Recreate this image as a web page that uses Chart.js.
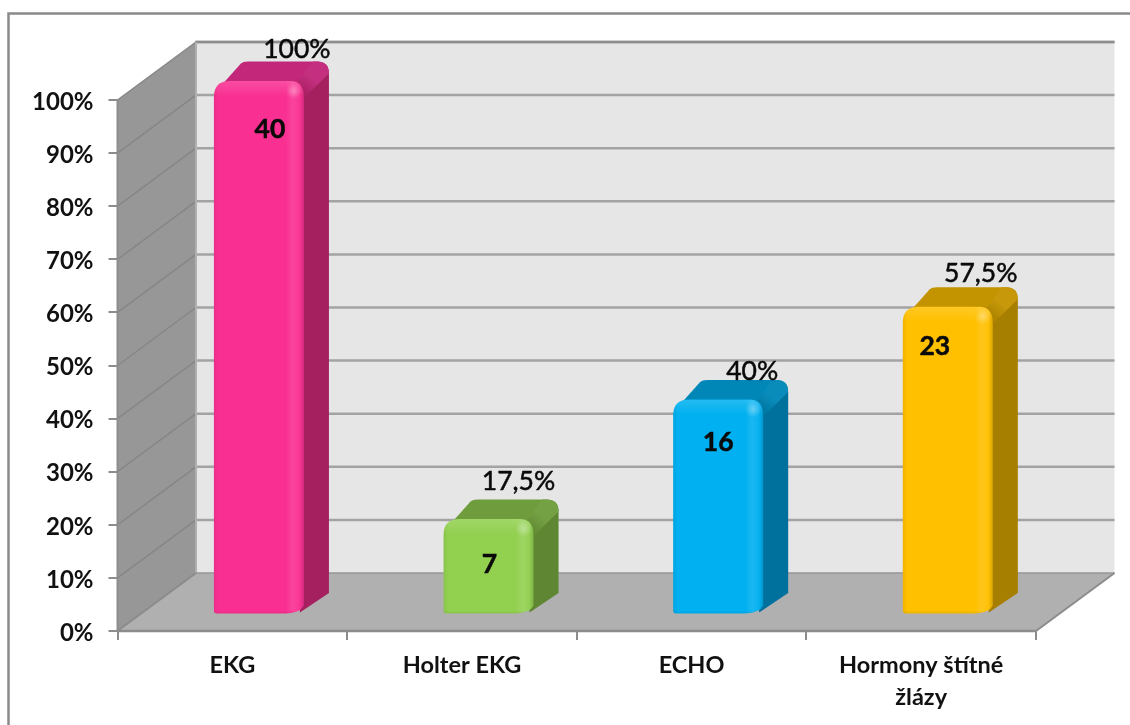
<!DOCTYPE html>
<html>
<head>
<meta charset="utf-8">
<style>
  html, body { margin: 0; padding: 0; background: #fff; }
  #wrap { width: 1130px; height: 725px; position: relative; }
</style>
<script src="https://cdn.jsdelivr.net/npm/chart.js@4/dist/chart.umd.js"></script>
</head>
<body>
<div id="wrap"><canvas id="chart" width="1130" height="725"></canvas></div>
<script>
// Share of examinations and the matching counts
const categories = ['EKG', 'Holter EKG', 'ECHO', ['Hormony štítné', 'žlázy']];
const percentValues = [100, 17.5, 40, 57.5];
const percentLabels = ['100%', '17,5%', '40%', '57,5%'];
const countValues = [40, 7, 16, 23];
const yTickStep = 10;

// Face colours per bar: front, top, side
const frontColors = ['#f93092', '#92d050', '#00b0f0', '#ffc000'];
const topColors = ['#c2277a', '#6f9d3d', '#0087b8', '#c49400'];
const sideColors = ['#a4205f', '#5f8733', '#00719c', '#a67e00'];

// Label placement relative to each bar's centre and top edge
const percentOffsets = [[38, -33], [30, -39], [34, -29], [33, -34]];
const countOffsets = [[11, 47], [1, 44], [0, 42], [-13, 39]];

// Oblique projection of the chart box and of the bars inside it
const WALL_DX = 78.5, WALL_DY = -58;
const BAR_SHIFT_X = 26.6, BAR_SHIFT_Y = -18;
const BAR_DX = 25, BAR_DY = -19.5;

const FONT = 'Lato, "Open Sans", sans-serif';

function mix(hex, other, t) {
  const p = s => [1, 3, 5].map(i => parseInt(s.substr(i, 2), 16));
  const a = p(hex), b = p(other);
  return 'rgb(' + a.map((v, i) => Math.round(v + (b[i] - v) * t)).join(',') + ')';
}

// Bar element drawn as a rounded prism: side, top, then shaded front face
class PrismBar extends Chart.BarElement {
  static id = 'prismBar';
  draw(ctx) {
    const { x, y, base, width } = this.getProps(['x', 'y', 'base', 'width'], true);
    const i = this.$context ? this.$context.dataIndex : 0;
    const front = frontColors[i], top = topColors[i], side = sideColors[i];
    const l = x - width / 2 + BAR_SHIFT_X, r = l + width;
    const t = y + BAR_SHIFT_Y - 1, b = base + BAR_SHIFT_Y + 1.5;
    const bx = BAR_DX, by = BAR_DY;

    ctx.save();
    // side face
    ctx.beginPath();
    ctx.moveTo(r - 12, t);
    ctx.lineTo(r + bx - 12, t + by);
    ctx.quadraticCurveTo(r + bx, t + by, r + bx, t + by + 12);
    ctx.lineTo(r + bx, b + by - 1);
    ctx.lineTo(r - 4, b - 1);
    ctx.closePath();
    ctx.fillStyle = side;
    ctx.fill();

    // top face
    ctx.beginPath();
    ctx.moveTo(l + 6, t + 6);
    ctx.lineTo(l + bx + 2, t + by + 2);
    ctx.quadraticCurveTo(l + bx + 4, t + by, l + bx + 9, t + by);
    ctx.lineTo(r + bx - 12, t + by);
    ctx.lineTo(r - 4, t + 6);
    ctx.closePath();
    ctx.fillStyle = top;
    ctx.fill();

    // soft ridge between the top and side faces
    const ridge = ctx.createLinearGradient(r - 2, t + 8, r + bx - 8, t + by + 4);
    ridge.addColorStop(0, mix(top, side, 0.7));
    ridge.addColorStop(0.5, mix(top, '#ffffff', 0.04));
    ridge.addColorStop(1, mix(top, '#ffffff', 0.04));
    ctx.beginPath();
    ctx.moveTo(r - 6, t + 1);
    ctx.lineTo(r + bx - 16, t + by);
    ctx.lineTo(r + bx - 12, t + by);
    ctx.quadraticCurveTo(r + bx, t + by, r + bx, t + by + 12);
    ctx.lineTo(r + 1, t + 16);
    ctx.closePath();
    ctx.fillStyle = ridge;
    ctx.fill();

    // front face
    ctx.beginPath();
    ctx.moveTo(l, t + 16);
    ctx.quadraticCurveTo(l, t, l + 16, t);
    ctx.lineTo(r - 14, t);
    ctx.quadraticCurveTo(r, t, r, t + 16);
    ctx.lineTo(r, b - 8);
    ctx.quadraticCurveTo(r - 3, b - 1, r - 18, b);
    ctx.lineTo(l + 3, b);
    ctx.quadraticCurveTo(l, b, l, b - 3);
    ctx.closePath();
    const g = ctx.createLinearGradient(l, 0, r, 0);
    g.addColorStop(0, mix(front, '#000000', 0.06));
    g.addColorStop(0.05, front);
    g.addColorStop(0.8, front);
    g.addColorStop(0.88, mix(front, '#ffffff', 0.1));
    g.addColorStop(0.95, mix(front, '#ffffff', 0.03));
    g.addColorStop(1, mix(front, '#000000', 0.14));
    ctx.fillStyle = g;
    ctx.fill();
    ctx.clip();

    // highlight along the upper edge
    const hi = ctx.createLinearGradient(0, t, 0, t + 15);
    hi.addColorStop(0, 'rgba(255,255,255,0.14)');
    hi.addColorStop(1, 'rgba(255,255,255,0)');
    ctx.fillStyle = hi;
    ctx.fillRect(l, t, width, 15);

    // shine at the upper right corner
    const cx = r - 10, cy = t + 10;
    const glow = ctx.createRadialGradient(cx, cy, 0, cx, cy, 8);
    glow.addColorStop(0, 'rgba(255,255,255,0.3)');
    glow.addColorStop(1, 'rgba(255,255,255,0)');
    ctx.fillStyle = glow;
    ctx.fillRect(cx - 8, cy - 8, 16, 16);

    // darker rim along the foot of the bar
    const foot = ctx.createLinearGradient(0, b - 3, 0, b);
    foot.addColorStop(0, 'rgba(0,0,0,0)');
    foot.addColorStop(1, 'rgba(0,0,0,0.08)');
    ctx.fillStyle = foot;
    ctx.fillRect(l, b - 3, width, 3);
    ctx.restore();
  }
}

class PrismBarController extends Chart.BarController {
  static id = 'prismBar';
  static defaults = { dataElementType: 'prismBar' };
}
Chart.register(PrismBar, PrismBarController);

// Outer frame, walls, floor and receding grid lines
const boxPlugin = {
  id: 'box',
  beforeDraw(chart) {
    const { ctx, chartArea: a, scales: { y } } = chart;
    const yTop = y.getPixelForValue(100), yBot = y.getPixelForValue(0);
    const L = a.left, R = a.right;
    const stroke = (w, c, pts) => {
      ctx.lineWidth = w;
      ctx.strokeStyle = c;
      ctx.beginPath();
      pts.forEach((p, i) => i ? ctx.lineTo(p[0], p[1]) : ctx.moveTo(p[0], p[1]));
      ctx.stroke();
    };
    const fill = (c, pts) => {
      ctx.fillStyle = c;
      ctx.beginPath();
      pts.forEach((p, i) => i ? ctx.lineTo(p[0], p[1]) : ctx.moveTo(p[0], p[1]));
      ctx.closePath();
      ctx.fill();
    };
    ctx.save();
    // frame along the left and top of the page
    stroke(2.5, '#8a8a8a', [[8.5, 725], [8.5, 13.5], [1130, 13.5]]);

    // back wall
    fill('#e6e6e6', [[L + WALL_DX, yTop + WALL_DY], [R + WALL_DX, yTop + WALL_DY], [R + WALL_DX, yBot + WALL_DY], [L + WALL_DX, yBot + WALL_DY]]);
    // side wall
    fill('#979797', [[L, yTop], [L + WALL_DX, yTop + WALL_DY], [L + WALL_DX, yBot + WALL_DY], [L, yBot]]);

    // grid lines across both walls, one per axis tick
    y.ticks.forEach(tick => {
      const py = y.getPixelForValue(tick.value);
      stroke(1.5, '#868686', [[L, py], [L + WALL_DX, py + WALL_DY]]);
      if (tick.value > 0) {
        stroke(2.5, '#a3a3a3', [[L + WALL_DX, py + WALL_DY], [R + WALL_DX, py + WALL_DY]]);
      }
    });
    stroke(2.5, '#8e8e8e', [[L + WALL_DX - 1, yTop + WALL_DY], [R + WALL_DX, yTop + WALL_DY]]);
    stroke(2, '#b0b0b0', [[L + WALL_DX, yTop + WALL_DY], [L + WALL_DX, yBot + WALL_DY]]);
    stroke(2, '#8e8e8e', [[L, yTop - 1], [L, yBot]]);

    // floor
    fill('#b0b0b0', [[L, yBot], [L + WALL_DX, yBot + WALL_DY], [R + WALL_DX, yBot + WALL_DY], [R, yBot]]);
    stroke(1.5, '#969696', [[L + WALL_DX, yBot + WALL_DY], [R + WALL_DX, yBot + WALL_DY]]);
    stroke(2, '#8c8c8c', [[L, yBot], [L + WALL_DX, yBot + WALL_DY]]);
    stroke(2, '#8c8c8c', [[R, yBot], [R + WALL_DX, yBot + WALL_DY]]);
    stroke(2.5, '#8c8c8c', [[L, yBot], [R, yBot]]);
    ctx.restore();
  }
};

// Percent label above each bar, count label on its front face
const barLabelsPlugin = {
  id: 'barLabels',
  afterDatasetsDraw(chart) {
    const { ctx } = chart;
    const bars = chart.getDatasetMeta(0).data;
    ctx.save();
    ctx.fillStyle = '#0a0a0a';
    ctx.strokeStyle = '#0a0a0a';
    ctx.lineWidth = 0.5;
    ctx.textAlign = 'center';
    ctx.textBaseline = 'middle';
    bars.forEach((bar, i) => {
      const fx = bar.x + BAR_SHIFT_X, fy = bar.y + BAR_SHIFT_Y;
      ctx.font = '400 26.5px ' + FONT;
      const px = fx + percentOffsets[i][0], py = fy + percentOffsets[i][1];
      ctx.fillText(percentLabels[i], px, py);
      ctx.strokeText(percentLabels[i], px, py);
      ctx.font = '700 26.5px ' + FONT;
      const cx = fx + countOffsets[i][0], cy = fy + countOffsets[i][1];
      ctx.fillText(String(countValues[i]), cx, cy);
      ctx.strokeText(String(countValues[i]), cx, cy);
    });
    ctx.restore();
  }
};

new Chart(document.getElementById('chart'), {
  type: 'prismBar',
  data: {
    labels: categories,
    datasets: [{
      label: 'Vyšetření',
      data: percentValues,
      backgroundColor: frontColors,
      barThickness: 90,
      clip: false
    }]
  },
  options: {
    responsive: false,
    animation: false,
    layout: { padding: { top: 100, right: 94, left: 0, bottom: 0 } },
    plugins: { legend: { display: false }, tooltip: { enabled: false } },
    scales: {
      x: {
        type: 'category',
        afterFit(s) { s.height = 94; },
        grid: { offset: true, drawOnChartArea: false, color: '#8c8c8c', lineWidth: 2, tickLength: 9 },
        border: { display: false },
        ticks: {
          color: '#111',
          font: { family: FONT, size: 23.5, weight: '700', lineHeight: 1.38 },
          padding: 9,
          maxRotation: 0,
          autoSkip: false
        }
      },
      y: {
        type: 'linear',
        min: 0,
        max: 100,
        afterFit(s) { s.width = 117.5; },
        grid: { drawOnChartArea: false, color: '#8c8c8c', lineWidth: 2, tickLength: 9 },
        border: { display: false },
        ticks: {
          stepSize: yTickStep,
          color: '#111',
          font: { family: FONT, size: 24, weight: '700' },
          padding: 15,
          labelOffset: 2,
          callback: v => v + '%'
        }
      }
    }
  },
  plugins: [boxPlugin, barLabelsPlugin]
});
</script>
</body>
</html>
